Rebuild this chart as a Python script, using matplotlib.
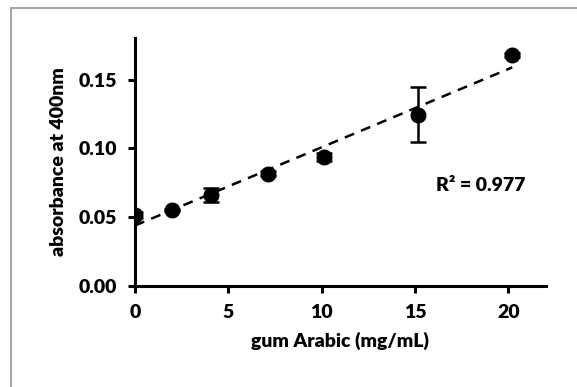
import matplotlib.pyplot as plt
import numpy as np

# gum Arabic concentration (mg/mL) and absorbance at 400 nm
conc = [0, 2.0, 4.05, 7.1, 10.1, 15.15, 20.2]
absorb = [0.0515, 0.055, 0.066, 0.0815, 0.0935, 0.1245, 0.168]
err = [0.002, 0.001, 0.005, 0.002, 0.003, 0.020, 0.0015]

x_ticks = [0, 5, 10, 15, 20]
y_ticks = [0.00, 0.05, 0.10, 0.15]

plt.rcParams['font.family'] = ['Lato', 'DejaVu Sans']
W = 'heavy'

fig = plt.figure(figsize=(5.77, 3.87), dpi=100)
# grey outer frame like the spreadsheet chart area
fig.patches.append(plt.Rectangle((0.019, -0.05), 1.2, 1.03, transform=fig.transFigure,
                                 fill=False, edgecolor='#a6a6a6', linewidth=1.5))
ax = fig.add_axes([0.234, 0.262, 0.712, 0.639])

ax.errorbar(conc, absorb, yerr=err, fmt='o', color='black', markersize=10.5,
            ecolor='black', elinewidth=1.8, capsize=6, capthick=1.8, zorder=3)

# linear trendline
slope, icpt = np.polyfit(conc, absorb, 1)
xf = np.array([min(conc), max(conc)])
ax.plot(xf, slope * xf + icpt, color='black', linestyle=(0, (4, 3)), linewidth=1.8)
ax.text(18.5, 0.073, 'R² = 0.977', ha='center', va='center', fontsize=14, fontweight=W)

ax.set_xlim(0, 22)
ax.set_ylim(0, 0.18)
ax.set_xticks(x_ticks)
ax.set_yticks(y_ticks)
ax.set_yticklabels(['%.2f' % v for v in y_ticks])
for s in ['top', 'right']:
    ax.spines[s].set_visible(False)
for s in ['left', 'bottom']:
    ax.spines[s].set_linewidth(2.2)
ax.tick_params(direction='out', length=5, width=2.2, labelsize=14, pad=8)
for lab in ax.get_xticklabels() + ax.get_yticklabels():
    lab.set_fontweight(W)

ax.set_xlabel('gum Arabic (mg/mL)', fontsize=14, fontweight=W, labelpad=8)
ax.set_ylabel('absorbance at 400nm', fontsize=14, fontweight=W, labelpad=8)

fig.savefig('out.png', dpi=100)
